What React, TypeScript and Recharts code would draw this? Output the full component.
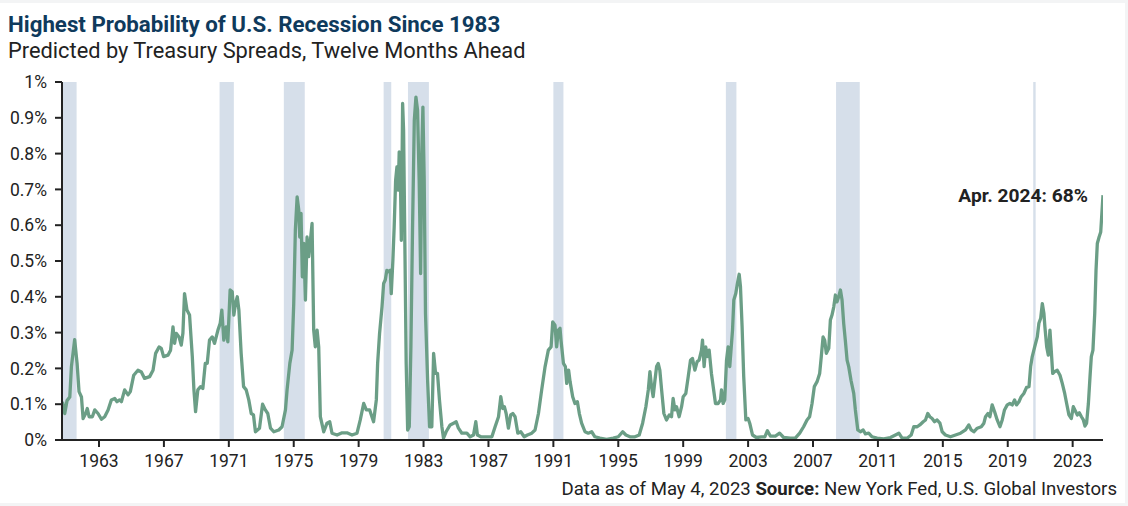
import React from "react";
import {
  LineChart,
  Line,
  XAxis,
  YAxis,
  ReferenceArea,
} from "recharts";

// decimal year of each observation (as placed on the chart's time axis)
const dates = [
  1960.75, 1960.89, 1961.03, 1961.2, 1961.3, 1961.5, 1961.65, 1961.77, 1961.92, 1962.02,
  1962.18, 1962.28, 1962.39, 1962.59, 1962.74, 1962.94, 1963.15, 1963.35, 1963.56, 1963.76,
  1963.97, 1964.11, 1964.27, 1964.38, 1964.58, 1964.79, 1964.93, 1965.14, 1965.4, 1965.61,
  1965.81, 1966.12, 1966.33, 1966.49, 1966.7, 1966.84, 1966.98, 1967.25, 1967.41, 1967.56,
  1967.66, 1967.76, 1967.93, 1968.07, 1968.17, 1968.27, 1968.42, 1968.58, 1968.75, 1968.85,
  1968.95, 1969.09, 1969.26, 1969.4, 1969.55, 1969.67, 1969.81, 1969.98, 1970.12, 1970.33,
  1970.47, 1970.57, 1970.69, 1970.84, 1970.94, 1971.08, 1971.21, 1971.31, 1971.41, 1971.52,
  1971.62, 1971.76, 1971.91, 1972.07, 1972.23, 1972.38, 1972.52, 1972.64, 1972.89, 1973.08,
  1973.25, 1973.4, 1973.57, 1973.77, 1974.08, 1974.28, 1974.49, 1974.59, 1974.76, 1974.9,
  1975.0, 1975.1, 1975.21, 1975.31, 1975.37, 1975.45, 1975.53, 1975.62, 1975.72, 1975.82,
  1975.92, 1976.03, 1976.13, 1976.23, 1976.33, 1976.44, 1976.54, 1976.64, 1976.85, 1977.05,
  1977.22, 1977.36, 1977.67, 1977.98, 1978.28, 1978.59, 1978.9, 1979.1, 1979.31, 1979.47,
  1979.68, 1979.92, 1980.09, 1980.17, 1980.29, 1980.44, 1980.54, 1980.64, 1980.74, 1980.85,
  1980.95, 1981.01, 1981.11, 1981.19, 1981.28, 1981.36, 1981.44, 1981.5, 1981.56, 1981.63,
  1981.71, 1981.77, 1981.85, 1981.93, 1982.02, 1982.12, 1982.22, 1982.32, 1982.43, 1982.53,
  1982.63, 1982.73, 1982.82, 1982.9, 1982.96, 1983.04, 1983.12, 1983.25, 1983.37, 1983.51,
  1983.62, 1983.74, 1983.86, 1983.98, 1984.13, 1984.23, 1984.39, 1984.64, 1984.85, 1985.01,
  1985.15, 1985.36, 1985.67, 1985.87, 1986.08, 1986.22, 1986.32, 1986.53, 1986.9, 1987.21,
  1987.41, 1987.62, 1987.76, 1987.88, 1987.98, 1988.09, 1988.23, 1988.37, 1988.5, 1988.64,
  1988.81, 1988.99, 1989.2, 1989.4, 1989.67, 1989.87, 1990.08, 1990.28, 1990.49, 1990.69,
  1990.86, 1990.96, 1991.1, 1991.2, 1991.31, 1991.41, 1991.47, 1991.62, 1991.74, 1991.82,
  1991.94, 1992.03, 1992.19, 1992.33, 1992.48, 1992.6, 1992.74, 1992.95, 1993.15, 1993.36,
  1993.56, 1993.87, 1994.28, 1994.69, 1995.0, 1995.27, 1995.47, 1995.72, 1996.03, 1996.29,
  1996.5, 1996.7, 1996.85, 1996.95, 1997.05, 1997.15, 1997.26, 1997.36, 1997.46, 1997.56,
  1997.67, 1997.81, 1997.97, 1998.14, 1998.28, 1998.38, 1998.49, 1998.59, 1998.75, 1998.9,
  1999.0, 1999.16, 1999.31, 1999.45, 1999.57, 1999.72, 1999.86, 1999.98, 2000.13, 2000.19,
  2000.29, 2000.39, 2000.48, 2000.6, 2000.74, 2000.85, 2000.99, 2001.15, 2001.3, 2001.36,
  2001.46, 2001.56, 2001.67, 2001.77, 2001.87, 2002.04, 2002.12, 2002.24, 2002.34, 2002.45,
  2002.53, 2002.63, 2002.73, 2002.86, 2003.0, 2003.1, 2003.27, 2003.51, 2003.82, 2004.03,
  2004.19, 2004.37, 2004.68, 2004.94, 2005.19, 2005.6, 2005.91, 2006.18, 2006.42, 2006.63,
  2006.79, 2006.94, 2007.08, 2007.25, 2007.41, 2007.51, 2007.62, 2007.72, 2007.82, 2007.97,
  2008.07, 2008.17, 2008.28, 2008.38, 2008.48, 2008.58, 2008.69, 2008.79, 2008.89, 2008.99,
  2009.1, 2009.2, 2009.34, 2009.51, 2009.61, 2009.76, 2009.92, 2010.09, 2010.23, 2010.43,
  2010.64, 2010.95, 2011.36, 2011.77, 2012.08, 2012.29, 2012.49, 2012.8, 2013.05, 2013.21,
  2013.42, 2013.58, 2013.79, 2013.93, 2014.07, 2014.2, 2014.34, 2014.49, 2014.65, 2014.82,
  2014.96, 2015.16, 2015.47, 2015.78, 2016.09, 2016.4, 2016.6, 2016.75, 2016.91, 2017.12,
  2017.37, 2017.53, 2017.63, 2017.78, 2017.9, 2018.04, 2018.19, 2018.35, 2018.52, 2018.66,
  2018.8, 2018.97, 2019.13, 2019.28, 2019.42, 2019.54, 2019.69, 2019.83, 2019.99, 2020.16,
  2020.31, 2020.41, 2020.51, 2020.66, 2020.82, 2020.92, 2021.03, 2021.13, 2021.23, 2021.29,
  2021.4, 2021.5, 2021.6, 2021.68, 2021.77, 2021.89, 2022.05, 2022.22, 2022.36, 2022.51,
  2022.63, 2022.77, 2022.92, 2023.04, 2023.19, 2023.29, 2023.41, 2023.54, 2023.66, 2023.76,
  2023.86, 2023.97, 2024.07, 2024.15, 2024.25, 2024.36, 2024.44, 2024.52, 2024.63, 2024.73,
  2024.87,
];

// recession probability twelve months ahead (chart units, 1 = top of axis)
const probability = [
  0.107, 0.074, 0.11, 0.12, 0.205, 0.28, 0.214, 0.135, 0.12, 0.06,
  0.074, 0.088, 0.065, 0.065, 0.084, 0.074, 0.058, 0.065, 0.084, 0.112,
  0.116, 0.107, 0.112, 0.107, 0.14, 0.126, 0.135, 0.181, 0.195, 0.19,
  0.172, 0.177, 0.195, 0.242, 0.26, 0.256, 0.233, 0.237, 0.251, 0.316,
  0.27, 0.298, 0.288, 0.265, 0.298, 0.409, 0.363, 0.349, 0.233, 0.14,
  0.079, 0.14, 0.149, 0.144, 0.214, 0.214, 0.279, 0.288, 0.27, 0.307,
  0.326, 0.363, 0.279, 0.316, 0.274, 0.419, 0.414, 0.349, 0.381, 0.4,
  0.363, 0.242, 0.149, 0.14, 0.112, 0.074, 0.07, 0.023, 0.033, 0.1,
  0.084, 0.074, 0.033, 0.023, 0.028, 0.037, 0.084, 0.14, 0.214, 0.251,
  0.381, 0.586, 0.679, 0.642, 0.567, 0.633, 0.456, 0.549, 0.391, 0.567,
  0.512, 0.558, 0.605, 0.307, 0.26, 0.307, 0.26, 0.065, 0.023, 0.047,
  0.051, 0.019, 0.014, 0.02, 0.02, 0.014, 0.019, 0.056, 0.102, 0.084,
  0.084, 0.051, 0.112, 0.214, 0.298, 0.372, 0.437, 0.447, 0.474, 0.47,
  0.474, 0.409, 0.502, 0.595, 0.726, 0.763, 0.698, 0.805, 0.781, 0.558,
  0.94, 0.865, 0.54, 0.214, 0.028, 0.037, 0.26, 0.586, 0.893, 0.958,
  0.921, 0.726, 0.465, 0.819, 0.93, 0.726, 0.353, 0.167, 0.037, 0.037,
  0.242, 0.186, 0.186, 0.112, 0.037, 0.005, 0.023, 0.042, 0.047, 0.051,
  0.033, 0.019, 0.019, 0.009, 0.014, 0.051, 0.014, 0.009, 0.009, 0.009,
  0.037, 0.065, 0.121, 0.088, 0.093, 0.074, 0.033, 0.07, 0.074, 0.065,
  0.019, 0.023, 0.009, 0.014, 0.019, 0.028, 0.074, 0.14, 0.205, 0.251,
  0.26, 0.33, 0.321, 0.26, 0.307, 0.312, 0.279, 0.214, 0.205, 0.158,
  0.195, 0.163, 0.121, 0.102, 0.107, 0.074, 0.047, 0.023, 0.019, 0.023,
  0.009, 0.005, 0.002, 0.005, 0.009, 0.023, 0.014, 0.009, 0.009, 0.014,
  0.047, 0.093, 0.14, 0.191, 0.149, 0.121, 0.167, 0.205, 0.214, 0.195,
  0.14, 0.074, 0.056, 0.07, 0.065, 0.116, 0.084, 0.093, 0.065, 0.093,
  0.121, 0.13, 0.177, 0.223, 0.228, 0.195, 0.219, 0.223, 0.251, 0.279,
  0.205, 0.26, 0.233, 0.251, 0.186, 0.149, 0.102, 0.102, 0.112, 0.14,
  0.102, 0.112, 0.223, 0.26, 0.205, 0.307, 0.391, 0.409, 0.437, 0.463,
  0.428, 0.316, 0.177, 0.056, 0.06, 0.047, 0.014, 0.007, 0.009, 0.009,
  0.026, 0.011, 0.011, 0.019, 0.007, 0.005, 0.005, 0.019, 0.037, 0.056,
  0.065, 0.102, 0.149, 0.163, 0.186, 0.233, 0.288, 0.279, 0.242, 0.256,
  0.335, 0.349, 0.372, 0.405, 0.386, 0.4, 0.419, 0.391, 0.326, 0.279,
  0.223, 0.205, 0.167, 0.13, 0.084, 0.028, 0.023, 0.028, 0.017, 0.019,
  0.009, 0.005, 0.003, 0.007, 0.014, 0.019, 0.005, 0.005, 0.014, 0.037,
  0.037, 0.042, 0.051, 0.056, 0.074, 0.065, 0.06, 0.051, 0.056, 0.047,
  0.023, 0.014, 0.009, 0.014, 0.019, 0.028, 0.042, 0.028, 0.023, 0.033,
  0.037, 0.047, 0.065, 0.074, 0.065, 0.098, 0.079, 0.056, 0.037, 0.056,
  0.084, 0.098, 0.102, 0.098, 0.112, 0.098, 0.107, 0.121, 0.13, 0.147,
  0.149, 0.205, 0.233, 0.26, 0.288, 0.326, 0.34, 0.381, 0.353, 0.316,
  0.26, 0.237, 0.307, 0.251, 0.186, 0.191, 0.195, 0.181, 0.158, 0.13,
  0.102, 0.07, 0.06, 0.093, 0.079, 0.07, 0.076, 0.065, 0.056, 0.039,
  0.047, 0.102, 0.177, 0.233, 0.251, 0.353, 0.474, 0.549, 0.567, 0.581,
  0.684,
];

// shaded recession periods [start, end]
const recessions = [
  [1960.75, 1961.62],
  [1970.43, 1971.31],
  [1974.39, 1975.68],
  [1980.54, 1981.01],
  [1982.04, 1983.33],
  [1991.0, 1991.62],
  [2001.63, 2002.28],
  [2008.42, 2009.88],
  [2020.57, 2020.72],
];

const yearTicks = [1963, 1967, 1971, 1975, 1979, 1983, 1987, 1991, 1995, 1999, 2003, 2007, 2011, 2015, 2019, 2023];
const probTicks = [0, 0.1, 0.2, 0.3, 0.4, 0.5, 0.6, 0.7, 0.8, 0.9, 1];

const data = dates.map((d, i) => ({ date: d, prob: probability[i] }));

const FONT = "Roboto, 'Open Sans', sans-serif";
const INK = "#222222";

export default function App() {
  return (
    <div
      style={{
        position: "absolute",
        left: 0,
        top: 0,
        width: 1128,
        height: 506,
        background: "#f3f4f5",
        fontFamily: FONT,
      }}
    >
      <div
        style={{
          position: "absolute",
          left: 0,
          top: 3,
          width: 1125,
          height: 500,
          background: "#ffffff",
        }}
      />
      <div style={{ position: "absolute", left: 0, top: 0 }}>
        <LineChart
          width={1128}
          height={506}
          data={data}
          margin={{ top: 82, right: 25, bottom: 36, left: 0 }}
        >
          {recessions.map(([a, b], i) => (
            <ReferenceArea
              key={`rec-${i}`}
              x1={a}
              x2={b}
              y1={0}
              y2={1}
              fill="#d6dfea"
              fillOpacity={1}
              stroke="none"
            />
          ))}
          <XAxis
            type="number"
            dataKey="date"
            domain={[1960.72, 2024.87]}
            ticks={yearTicks}
            allowDataOverflow
            height={30}
            tickSize={7}
            tickMargin={8}
            axisLine={{ stroke: INK, strokeWidth: 2 }}
            tickLine={{ stroke: INK, strokeWidth: 2 }}
            tick={{ fill: INK, fontSize: 17.5, fontFamily: FONT }}
          />
          <YAxis
            type="number"
            domain={[0, 1]}
            ticks={probTicks}
            width={62}
            tickSize={7}
            tickMargin={8}
            axisLine={{ stroke: INK, strokeWidth: 2 }}
            tickLine={{ stroke: INK, strokeWidth: 2 }}
            tick={{ fill: INK, fontSize: 17.5, fontFamily: FONT }}
            tickFormatter={(v: number) =>
              v === 0 ? "0%" : v === 1 ? "1%" : `${v.toFixed(1)}%`
            }
          />
          <Line
            type="linear"
            dataKey="prob"
            stroke="#6b9e86"
            strokeWidth={3.3}
            strokeLinejoin="round"
            dot={false}
            activeDot={false}
            isAnimationActive={false}
          />
        </LineChart>
      </div>
      <svg
        width={1128}
        height={506}
        style={{ position: "absolute", left: 0, top: 0, pointerEvents: "none" }}
      >
        <text x={8} y={32} fill="#0f3a5c" fontSize={22.3} fontWeight={700} fontFamily={FONT}>
          Highest Probability of U.S. Recession Since 1983
        </text>
        <text x={8} y={58} fill={INK} fontSize={21.8} fontFamily={FONT}>
          Predicted by Treasury Spreads, Twelve Months Ahead
        </text>
        <text x={1088} y={202} fill={INK} fontSize={19.2} fontWeight={700} textAnchor="end" fontFamily={FONT}>
          Apr. 2024: 68%
        </text>
        <text x={1117} y={495} fill={INK} fontSize={18.6} textAnchor="end" fontFamily={FONT}>
          Data as of May 4, 2023 <tspan fontWeight={700}>Source:</tspan> New York Fed, U.S. Global Investors
        </text>
      </svg>
    </div>
  );
}
